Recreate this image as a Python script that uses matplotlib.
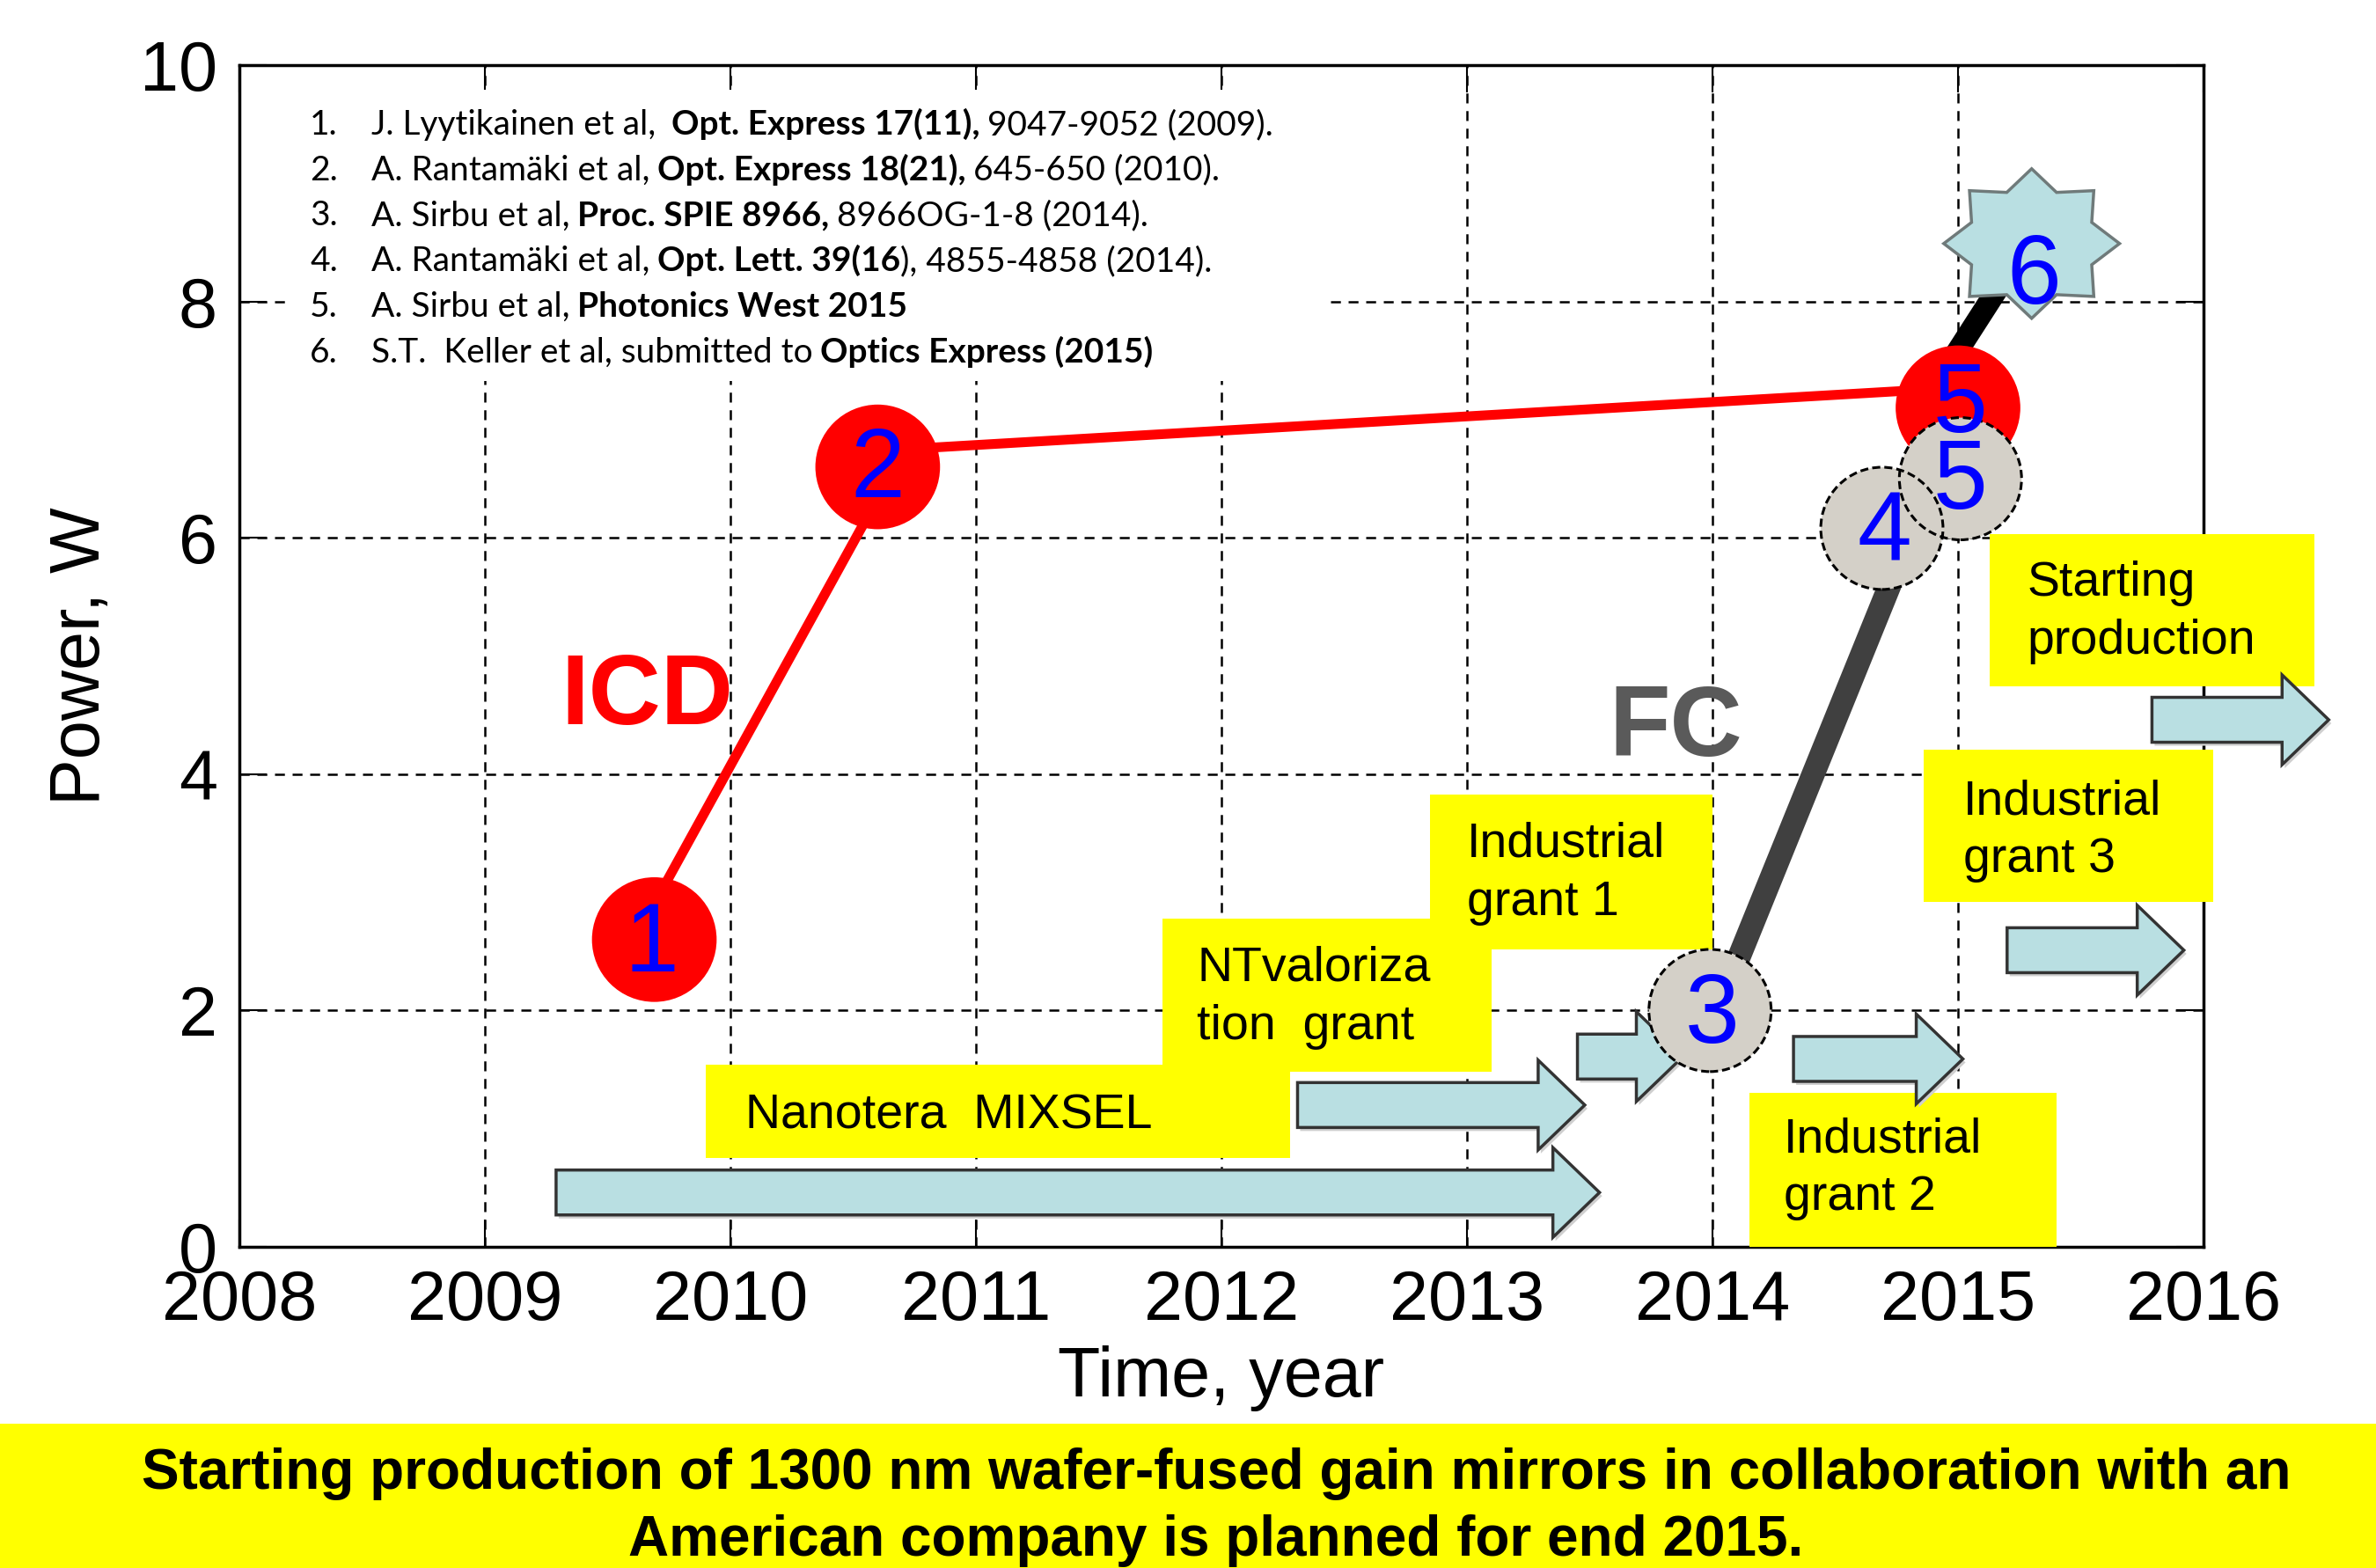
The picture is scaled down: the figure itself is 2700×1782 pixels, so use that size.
import numpy as np
import matplotlib
matplotlib.use('Agg')
import matplotlib.pyplot as plt
from matplotlib.patches import Polygon, Rectangle
import matplotlib.transforms as mtransforms

plt.rcParams['font.family'] = ['Liberation Sans', 'DejaVu Sans']

# --- Data ---
year_ticks = [2008, 2009, 2010, 2011, 2012, 2013, 2014, 2015, 2016]
power_ticks = [0, 2, 4, 6, 8, 10]

# ICD series (red)
icd_years = [2009.69, 2010.60, 2015.00]
icd_power = [2.60, 6.60, 7.10]
icd_labels = ['1', '2', '5']
icd_label_years = [2009.68, 2010.60, 2015.01]
icd_label_power = [2.63, 6.64, 7.19]
# the red trend line is drawn slightly off the marker centres
icd_line_years = [2009.61, 2010.71, 2015.00]
icd_line_power = [2.60, 6.75, 7.27]

# FC series (grey)
fc_years = [2013.99, 2014.69, 2015.01]
fc_power = [2.00, 6.08, 6.50]
fc_labels = ['3', '4', '5']
fc_label_years = [2014.00, 2014.70, 2015.01]
fc_label_power = [2.02, 6.11, 6.54]
fc_line_years = [2014.02, 2014.82]
fc_line_power = [2.00, 6.10]
fc_line2_years = [2014.85, 2015.28]
fc_line2_power = [7.10, 8.49]

# result 6 (star)
star_year = 2015.30
star_power = 8.49
star_label = '6'
star_label_year = 2015.31
star_label_power = 8.28

# funding boxes (yellow)
box_lines = [['Nanotera  MIXSEL'], ['NTvaloriza', 'tion  grant'],
             ['Industrial', 'grant 1'], ['Industrial', 'grant 2'],
             ['Industrial', 'grant 3'], ['Starting', 'production']]
box_x0 = [2009.90, 2011.76, 2012.85, 2014.15, 2014.86, 2015.13]
box_x1 = [2012.28, 2013.10, 2014.00, 2015.40, 2016.04, 2016.45]
box_y0 = [0.75, 1.48, 2.52, 0.00, 2.92, 4.74]
box_y1 = [1.54, 2.78, 3.83, 1.30, 4.21, 6.03]
box_text_x = [2010.06, 2011.90, 2013.00, 2014.29, 2015.02, 2015.28]
box_text_y = [1.00, 2.25, 3.30, 0.80, 3.66, 5.51]

# funding periods (arrows)
arrow_start = [2009.29, 2012.31, 2013.45, 2014.33, 2015.20, 2015.79]
arrow_end = [2013.54, 2013.48, 2013.88, 2015.02, 2015.92, 2016.51]
arrow_level = [0.46, 1.20, 1.61, 1.59, 2.51, 4.46]

references = [
    [('J. Lyytikainen et al,  ', False), ('Opt. Express 17(11),', True), (' 9047-9052 (2009).', False)],
    [('A. Rantamäki et al, ', False), ('Opt. Express 18(21),', True), (' 645-650 (2010).', False)],
    [('A. Sirbu et al, ', False), ('Proc. SPIE 8966,', True), (' 8966OG-1-8 (2014).', False)],
    [('A. Rantamäki et al, ', False), ('Opt. Lett. 39(16', True), ('), 4855-4858 (2014).', False)],
    [('A. Sirbu et al, ', False), ('Photonics West 2015', True)],
    [('S.T.  Keller et al, submitted to ', False), ('Optics Express (2015)', True)],
]

banner_lines = ['Starting production of 1300 nm wafer-fused gain mirrors in collaboration with an',
                'American company is planned for end 2015.']

# --- Figure ---
W, H = 2700, 1782
fig = plt.figure(figsize=(W / 100, H / 100), dpi=100)
fig.patch.set_facecolor('white')
ax = fig.add_axes([272 / W, 1 - 1417 / H, 2232 / W, 1343 / H])
ax.set_xlim(2008, 2016)
ax.set_ylim(0, 10)
ax.set_axisbelow(True)

ax.set_xticks(year_ticks)
ax.set_xticklabels([str(y) for y in year_ticks])
ax.set_yticks(power_ticks)
ax.set_yticklabels([str(p) for p in power_ticks])
ax.tick_params(direction='in', length=22, width=1.5, top=True, right=True,
               labelsize=57, pad=18)
for sp in ax.spines.values():
    sp.set_linewidth(2.5)
ax.grid(True, color='black', linestyle=(0, (4.5, 3.5)), linewidth=1.8)

ax.set_xlabel('Time, year', fontsize=57)
ax.xaxis.label.set_va('baseline')
ax.xaxis.set_label_coords(0.5, -0.1266)
ax.set_ylabel('Power, W', fontsize=57)
ax.yaxis.label.set_va('baseline')
ax.yaxis.set_label_coords(-0.0712, 0.5)

# white block behind the reference list
ax.add_patch(Rectangle((2008.21, 7.33), 4.22, 2.46, facecolor='white',
                       edgecolor='none', zorder=1))

# yellow funding boxes
line_gap = 0.49
for lines, x0, x1, y0, y1, tx, ty in zip(box_lines, box_x0, box_x1, box_y0, box_y1,
                                         box_text_x, box_text_y):
    ax.add_patch(Rectangle((x0, y0), x1 - x0, y1 - y0, facecolor='#ffff00',
                           edgecolor='none', zorder=3, clip_on=False))
    for k, s in enumerate(lines):
        ax.text(tx, ty - k * line_gap, s, fontsize=40, color='black',
                ha='left', va='baseline', zorder=3.2, clip_on=False)

# arrows
head_len, shaft_half, head_half = 0.19, 0.19, 0.38
shadow = mtransforms.offset_copy(ax.transData, fig=fig, x=3, y=-4, units='dots')
for x0, x1, y in zip(arrow_start, arrow_end, arrow_level):
    xb = x1 - head_len
    pts = [(x0, y - shaft_half), (xb, y - shaft_half), (xb, y - head_half), (x1, y),
           (xb, y + head_half), (xb, y + shaft_half), (x0, y + shaft_half)]
    ax.add_patch(Polygon(pts, closed=True, facecolor='#cfcfcf', edgecolor='none',
                         transform=shadow, zorder=3.4, clip_on=False))
    ax.add_patch(Polygon(pts, closed=True, facecolor='#b9dfe2', edgecolor='#333333',
                         linewidth=2.5, zorder=3.5, clip_on=False))

# trend lines
ax.plot(icd_line_years, icd_line_power, color='#ff0000', linewidth=8, zorder=4,
        solid_capstyle='butt')
ax.plot(fc_line_years, fc_line_power, color='#404040', linewidth=19, zorder=4,
        solid_capstyle='butt')
ax.plot(fc_line2_years, fc_line2_power, color='black', linewidth=18, zorder=4,
        solid_capstyle='butt')

# markers
ax.scatter(icd_years, icd_power, s=102 ** 2, color='#ff0000', edgecolors='none', zorder=5)
ax.scatter(fc_years, fc_power, s=100 ** 2, color='#d4d0c8', edgecolors='none', zorder=5.5)
ax.scatter(fc_years, fc_power, s=100 ** 2, facecolors='none', edgecolors='black',
           linewidths=2.2, linestyles=(0, (3, 1.5)), zorder=5.6)

theta = np.pi / 2 + np.arange(16) * np.pi / 8
rad = np.where(np.arange(16) % 2 == 0, 1.0, 0.74)
star_pts = np.column_stack([star_year + 0.358 * rad * np.cos(theta),
                            star_power + 0.633 * rad * np.sin(theta)])
ax.add_patch(Polygon(star_pts, closed=True, facecolor='#b9dfe2', edgecolor='#6f7a7a',
                     linewidth=2.5, zorder=5))

# numbers on the markers
all_lab = icd_labels + fc_labels + [star_label]
all_lx = icd_label_years + fc_label_years + [star_label_year]
all_ly = icd_label_power + fc_label_power + [star_label_power]
for s, x, y in zip(all_lab, all_lx, all_ly):
    ax.annotate(s, (x, y), xytext=(0, -28.6), textcoords='offset points',
                ha='center', va='baseline', fontsize=80, color='#0000ff', zorder=8)

ax.text(2009.31, 4.42, 'ICD', color='#ff0000', fontsize=82, fontweight='bold',
        ha='left', va='baseline', zorder=6)
ax.text(2013.58, 4.155, 'FC', color='#5a5a5a', fontsize=82, fontweight='bold',
        ha='left', va='baseline', zorder=6)

# reference list (mixed bold / regular)
renderer = fig.canvas.get_renderer()
ref_size = 28
ref_font = ['Lato', 'DejaVu Sans']
space_px = 0.226 * ref_size * 100 / 72
for i, segs in enumerate(references):
    y_px = H - (153 + i * 51.7)
    fig.text(352 / W, y_px / H, f'{i + 1}.', fontsize=ref_size, family=ref_font,
             ha='left', va='baseline')
    x_px = 422
    for txt, bold in segs:
        lead = len(txt) - len(txt.lstrip(' '))
        trail = len(txt) - len(txt.rstrip(' '))
        x_px += lead * space_px
        t = fig.text(x_px / W, y_px / H, txt.strip(' '), fontsize=ref_size, family=ref_font,
                     fontweight='bold' if bold else 'normal', ha='left', va='baseline')
        x_px = t.get_window_extent(renderer=renderer).x1 + trail * space_px

# bottom banner
fig.add_artist(Rectangle((0, 0), 1, (H - 1618) / H, transform=fig.transFigure,
                         facecolor='#ffff00', edgecolor='none', zorder=0))
fig.text(1382 / W, (H - 1692) / H, banner_lines[0], fontsize=46, fontweight='bold',
         ha='center', va='baseline')
fig.text(1382 / W, (H - 1768) / H, banner_lines[1], fontsize=46, fontweight='bold',
         ha='center', va='baseline')

fig.savefig('out.png', dpi=100)
